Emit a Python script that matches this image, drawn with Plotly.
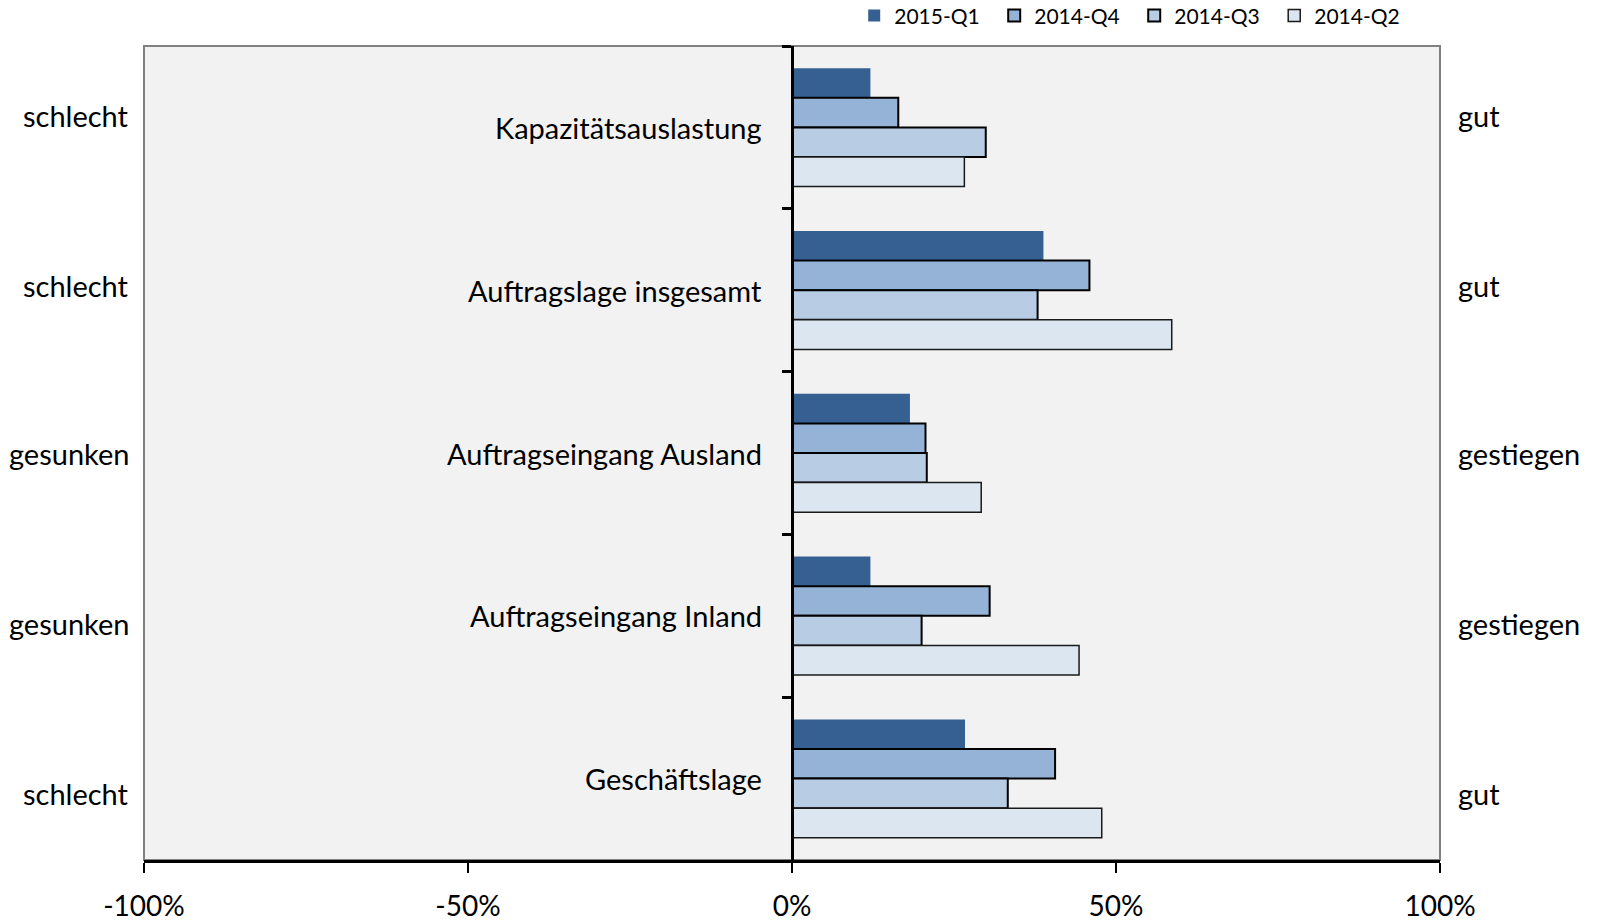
import plotly.graph_objects as go

categories = ["Kapazitätsauslastung", "Auftragslage insgesamt", "Auftragseingang Ausland",
              "Auftragseingang Inland", "Geschäftslage"]
left_labels = ["schlecht", "schlecht", "gesunken", "gesunken", "schlecht"]
right_labels = ["gut", "gut", "gestiegen", "gestiegen", "gut"]

series_names = ["2015-Q1", "2014-Q4", "2014-Q3", "2014-Q2"]
q1_2015 = [0.121, 0.388, 0.182, 0.121, 0.267]
q4_2014 = [0.164, 0.459, 0.206, 0.305, 0.406]
q3_2014 = [0.299, 0.379, 0.208, 0.200, 0.333]
q2_2014 = [0.266, 0.586, 0.292, 0.443, 0.478]

x_ticks = [-1.0, -0.5, 0.0, 0.5, 1.0]
x_tick_text = ["-100%", "-50%", "0%", "50%", "100%"]

colors = ["#366092", "#95b3d7", "#b8cce4", "#dce6f1"]
line_w = [0, 2, 2, 1.5]
line_c = ["#366092", "#000000", "#000000", "#1a1a1a"]

FONT = "Lato"
FS = 29

fig = go.Figure()
for name, vals, c, lw, lc in zip(series_names, [q1_2015, q4_2014, q3_2014, q2_2014], colors, line_w, line_c):
    fig.add_trace(go.Bar(
        y=categories, x=vals, name=name, orientation="h",
        marker=dict(color=c, line=dict(color=lc, width=lw)),
    ))

annotations = []
for cat in categories:
    annotations.append(dict(x=0, y=cat, xref="x", yref="y", text=cat, showarrow=False,
                            xanchor="right", yanchor="middle", xshift=-28,
                            font=dict(family=FONT, size=FS, color="#000")))

side_y = [0.915, 0.706, 0.499, 0.2905, 0.0823]
for yl, lt, rt in zip(side_y, left_labels, right_labels):
    annotations.append(dict(x=-0.01, y=yl, xref="paper", yref="paper", text=lt, showarrow=False,
                            xanchor="right", yanchor="middle",
                            font=dict(family=FONT, size=FS, color="#000")))
    annotations.append(dict(x=1.012, y=yl, xref="paper", yref="paper", text=rt, showarrow=False,
                            xanchor="left", yanchor="middle",
                            font=dict(family=FONT, size=FS, color="#000")))

fig.update_layout(
    width=1600, height=924,
    margin=dict(l=144, r=160, t=46, b=64, autoexpand=False),
    paper_bgcolor="white", plot_bgcolor="#f2f2f2",
    barmode="group", bargap=0.273, bargroupgap=0,
    font=dict(family=FONT, size=FS, color="#000"),
    legend=dict(orientation="h", x=0.548, y=1.0369, xanchor="left", yanchor="middle",
                font=dict(family=FONT, size=21, color="#000"),
                entrywidth=95, entrywidthmode="pixels", traceorder="normal",
                itemwidth=30, bgcolor="rgba(0,0,0,0)"),
    annotations=annotations,
    shapes=[dict(type="rect", xref="paper", yref="paper", x0=0, x1=1, y0=0, y1=1,
                 line=dict(color="#808080", width=2), fillcolor="rgba(0,0,0,0)", layer="below")],
    xaxis=dict(range=[-1, 1], tickvals=x_ticks, ticktext=x_tick_text,
               showgrid=False, zeroline=False, showline=True, linecolor="#000", linewidth=3,
               ticks="outside", ticklen=10, tickwidth=2, tickcolor="#000",
               ticklabelstandoff=9, tickfont=dict(family=FONT, size=28)),
    yaxis=dict(autorange="reversed", anchor="free", position=0.5, type="category",
               showgrid=False, zeroline=False, showline=True, linecolor="#000", linewidth=3,
               ticks="outside", ticklen=9, tickwidth=3, tickcolor="#000", tickson="boundaries",
               showticklabels=False),
)

fig.write_html("out.html", config={"displayModeBar": False},
               post_script="document.body.style.margin='0';")
